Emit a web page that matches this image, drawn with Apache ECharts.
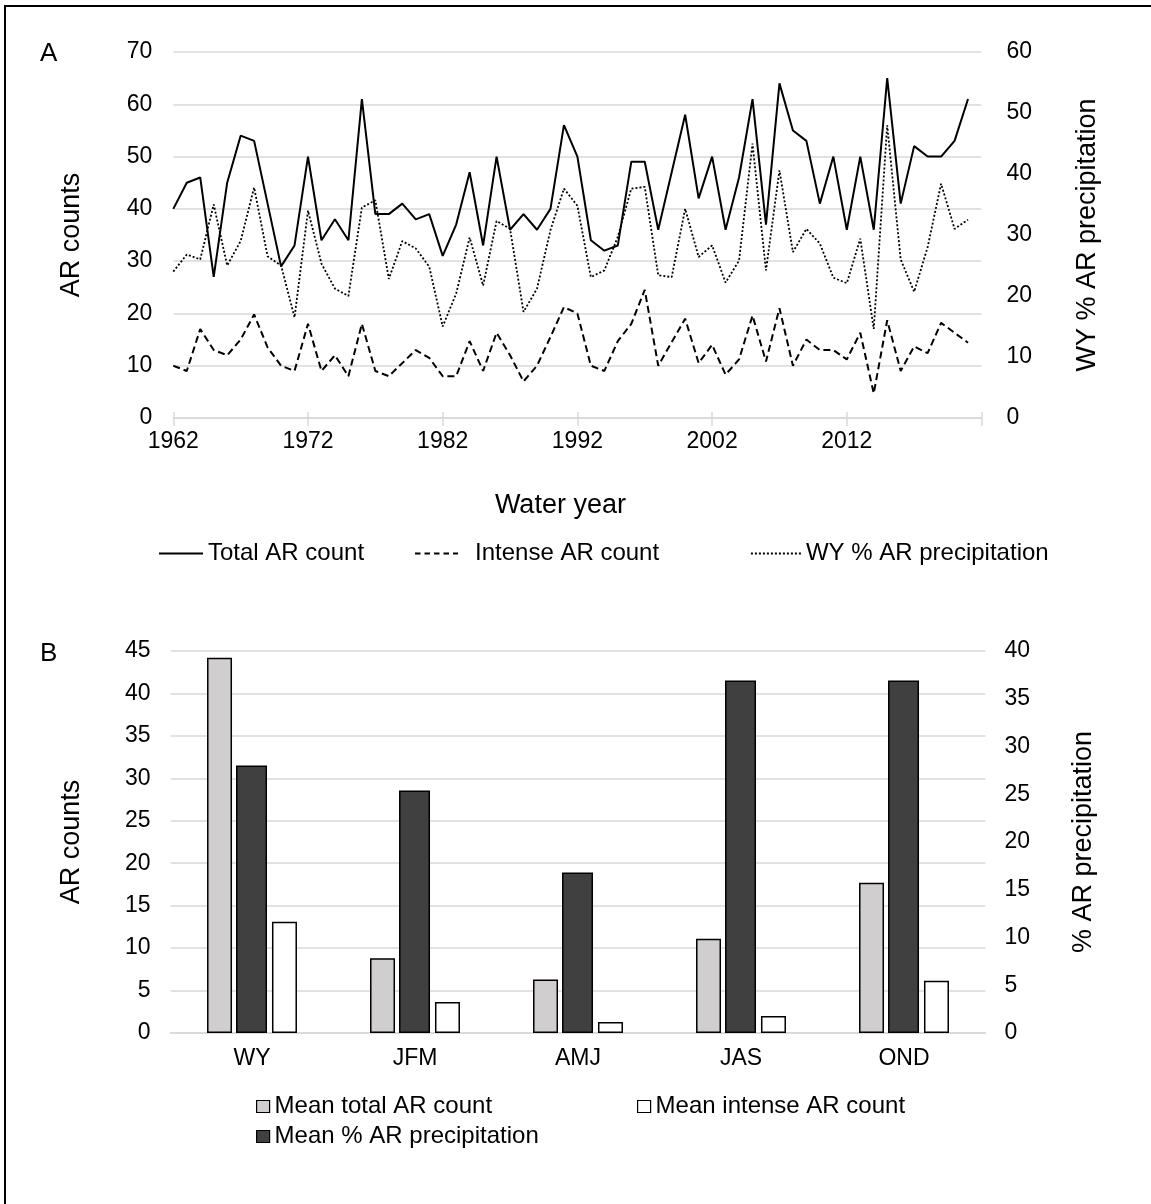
<!DOCTYPE html>
<html><head><meta charset="utf-8">
<script src="https://cdn.jsdelivr.net/npm/echarts@6/dist/echarts.min.js"></script>
<style>html,body{margin:0;padding:0;background:#fff}#c{width:1151px;height:1204px}</style>
</head><body><div id="c"></div>
<script>
// ---------- Panel A data ----------
const years = ['1962','1963','1964','1965','1966','1967','1968','1969','1970','1971',
  '1972','1973','1974','1975','1976','1977','1978','1979','1980','1981',
  '1982','1983','1984','1985','1986','1987','1988','1989','1990','1991',
  '1992','1993','1994','1995','1996','1997','1998','1999','2000','2001',
  '2002','2003','2004','2005','2006','2007','2008','2009','2010','2011',
  '2012','2013','2014','2015','2016','2017','2018','2019','2020','2021','2022'];
const totalAR = [40,45,46,27,45,54,53,41,29,33,
  50,34,38,34,61,39,39,41,38,39,
  31,37,47,33,50,36,39,36,40,56,
  50,34,32,33,49,49,36,47,58,42,
  50,36,46,61,37,64,55,53,41,50,
  36,50,36,65,41,52,50,50,53,61];
const intenseAR = [10,9,17,13,12,15,19.8,13.5,10,9,
  18,9,12,8,18,9,8,10.5,13,11.5,
  8,8,14.7,9,16.3,12,7,10,15.5,21.2,
  20,10,9,14.7,18,24.5,10,14.5,19,10.5,
  14,8.3,11.2,19.6,10.8,21,10,15,13,13,
  11.2,16.3,4.7,18.7,9,13.7,12.4,18.2,16.3,14.4];
const wyPctAR = [24,26.8,26,35,25,29,37.8,26.5,25,16.5,
  34,25.3,21.2,20,34.5,35.7,22.8,29,27.8,24.8,
  15,20.4,29.6,21.7,32.3,31,17.4,21.2,30.8,37.6,
  34.8,23.1,24.2,29.7,37.6,37.9,23.4,23.1,34.3,26.4,
  28.3,22.2,25.8,45,24.2,40.6,27.2,31,28.6,23,
  22.1,29.4,14.6,48,26,20.7,28,38.4,31,32.5];

// ---------- Panel B data ----------
const seasons = ['WY','JFM','AMJ','JAS','OND'];
const meanTotal = [44.2,8.8,6.3,11.1,17.7];
const meanIntense = [13.1,3.65,1.3,2.0,6.15];
const meanPct = [28.0,25.4,16.8,36.9,36.9];

const FONT = '"Liberation Sans", Arial, sans-serif';
const GRID = '#D9D9D9';
const tick = {fontSize:23, color:'#000', fontFamily:FONT};
const title = {fontSize:27, color:'#000', fontFamily:FONT};
const legText = {fontSize:24, color:'#000', fontFamily:FONT, lineHeight:24};
const hideSym = {opacity:0};

const chart = echarts.init(document.getElementById('c'), null, {renderer:'canvas'});
chart.setOption({
  animation:false,
  backgroundColor:'#fff',
  textStyle:{fontFamily:FONT},
  grid:[
    {left:173.3, top:52, width:808.2, height:366, outerBoundsMode:'none', containLabel:false},
    {left:170.5, top:651, width:815, height:382, outerBoundsMode:'none', containLabel:false}
  ],
  xAxis:[
    {type:'category', gridIndex:0, data:years, boundaryGap:false, position:'bottom',
     axisLine:{show:true, lineStyle:{color:GRID, width:1.5}},
     axisTick:{show:true, interval:9, length:8, lineStyle:{color:GRID, width:1.5}},
     axisLabel:Object.assign({interval:9, margin:12, formatter:v => v==='2022' ? '' : v}, tick),
     splitLine:{show:false},
     name:'Water year', nameLocation:'middle', nameGap:74,
     nameTextStyle:Object.assign({padding:[0,34,0,0]}, title)},
    {type:'category', gridIndex:1, data:seasons,
     axisLine:{show:true, lineStyle:{color:GRID, width:1.5}},
     axisTick:{show:false},
     axisLabel:Object.assign({margin:14.5}, tick),
     splitLine:{show:false}},
    // upper half of the crossing tick marks on panel A's year axis
    {type:'category', gridIndex:0, data:years, boundaryGap:false, position:'top', offset:-366,
     axisLine:{show:false},
     axisTick:{show:true, interval:9, length:6, lineStyle:{color:GRID, width:1.5}},
     axisLabel:{show:false}, splitLine:{show:false}}
  ],
  yAxis:[
    {type:'value', gridIndex:0, min:0, max:70, interval:10, position:'left',
     axisLine:{show:false}, axisTick:{show:false},
     axisLabel:Object.assign({margin:21}, tick),
     splitLine:{show:true, lineStyle:{color:GRID, width:1.5}},
     name:'AR counts', nameLocation:'middle', nameRotate:90, nameGap:88, nameTextStyle:title},
    {type:'value', gridIndex:0, min:0, max:60, interval:10, position:'right',
     axisLine:{show:false}, axisTick:{show:false},
     axisLabel:Object.assign({margin:25}, tick),
     splitLine:{show:false},
     name:'WY % AR precipitation', nameLocation:'middle', nameRotate:90, nameGap:93, nameTextStyle:title},
    {type:'value', gridIndex:1, min:0, max:45, interval:5, position:'left',
     axisLine:{show:false}, axisTick:{show:false},
     axisLabel:Object.assign({margin:20}, tick),
     splitLine:{show:true, lineStyle:{color:GRID, width:1.5}},
     name:'AR counts', nameLocation:'middle', nameRotate:90, nameGap:85, nameTextStyle:title},
    {type:'value', gridIndex:1, min:0, max:40, interval:5, position:'right',
     axisLine:{show:false}, axisTick:{show:false},
     axisLabel:Object.assign({margin:19}, tick),
     splitLine:{show:false},
     name:'% AR precipitation', nameLocation:'middle', nameRotate:90, nameGap:85, nameTextStyle:title}
  ],
  legend:[
    {data:['Total AR count'], left:158, top:541.5, padding:0, itemWidth:44, itemHeight:14,
     textStyle:legText, lineStyle:{width:2}, itemStyle:hideSym},
    {data:['Intense AR count'], left:414, top:541.5, padding:0, itemWidth:43, itemHeight:14,
     textStyle:Object.assign({padding:[0,0,0,12]}, legText), lineStyle:{width:2, type:[5.5,4]}, itemStyle:hideSym},
    {data:['WY % AR precipitation'], left:750, top:541.5, padding:0, itemWidth:50, itemHeight:14,
     textStyle:legText, lineStyle:{width:1.8, type:[2,2]}, itemStyle:hideSym},
    {data:['Mean total AR count'], left:256, top:1094.5, padding:0, itemWidth:13, itemHeight:12, icon:'rect',
     textStyle:legText, itemStyle:{borderColor:'#000', borderWidth:1.2}},
    {data:['Mean intense AR count'], left:637, top:1094.5, padding:0, itemWidth:13, itemHeight:12, icon:'rect',
     textStyle:legText, itemStyle:{borderColor:'#000', borderWidth:1.2}},
    {data:['Mean % AR precipitation'], left:256, top:1124.5, padding:0, itemWidth:13, itemHeight:12, icon:'rect',
     textStyle:legText, itemStyle:{borderColor:'#000', borderWidth:1.2}}
  ],
  graphic:[
    {type:'rect', silent:true, shape:{x:5, y:6, width:1300, height:1400},
     style:{fill:'none', stroke:'#000', lineWidth:2}},
    {type:'text', left:40, top:41, style:{text:'A', fontSize:26, fill:'#000', fontFamily:FONT}},
    {type:'text', left:40, top:641, style:{text:'B', fontSize:26, fill:'#000', fontFamily:FONT}}
  ],
  series:[
    {type:'line', name:'Total AR count', xAxisIndex:0, yAxisIndex:0, data:totalAR,
     symbol:'none', color:'#000', lineStyle:{color:'#000', width:2}},
    {type:'line', name:'Intense AR count', xAxisIndex:0, yAxisIndex:0, data:intenseAR,
     symbol:'none', color:'#000', lineStyle:{color:'#000', width:2, type:[7,4]}},
    {type:'line', name:'WY % AR precipitation', xAxisIndex:0, yAxisIndex:1, data:wyPctAR,
     symbol:'none', color:'#000', lineStyle:{color:'#000', width:1.8, type:[2,2]}},
    {type:'bar', name:'Mean total AR count', xAxisIndex:1, yAxisIndex:2, data:meanTotal,
     barWidth:25, barGap:'16%', itemStyle:{color:'#D0CECE', borderColor:'#000', borderWidth:1.5}},
    {type:'bar', name:'Mean % AR precipitation', xAxisIndex:1, yAxisIndex:3, data:meanPct,
     barWidth:31, barGap:'16%', itemStyle:{color:'#404040', borderColor:'#000', borderWidth:1.5}},
    {type:'bar', name:'Mean intense AR count', xAxisIndex:1, yAxisIndex:2, data:meanIntense,
     barWidth:25, barGap:'16%', itemStyle:{color:'#FFFFFF', borderColor:'#000', borderWidth:1.5}}
  ]
});
</script></body></html>
